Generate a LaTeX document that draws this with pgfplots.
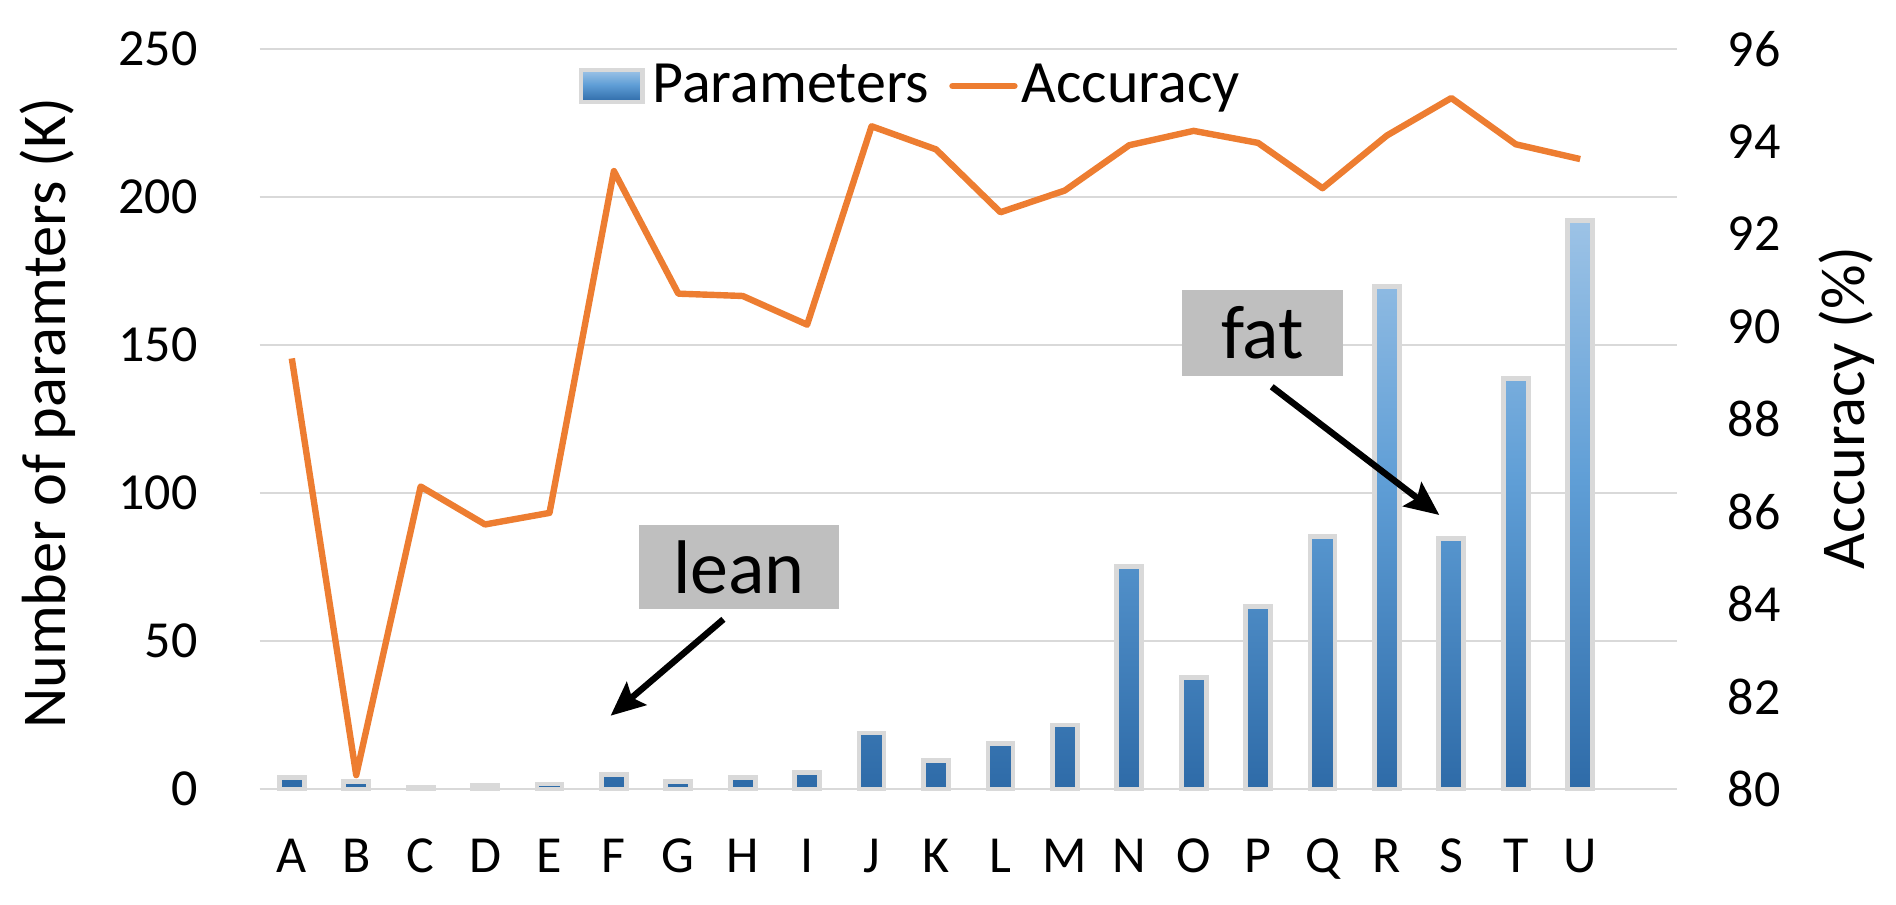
\documentclass[border=0pt]{standalone}
\usepackage{fontspec}
\setmainfont{Carlito}
\usepackage{pgfplots}
\usepackage{pgfplotstable}
\pgfplotsset{compat=1.18}
\usetikzlibrary{arrows.meta}
\definecolor{gridgray}{HTML}{D9D9D9}
\definecolor{bargray}{HTML}{D9D9D9}
\definecolor{accorange}{HTML}{ED7D31}
\definecolor{boxgray}{HTML}{BFBFBF}
\definecolor{barlight}{HTML}{9DC3E6}
\definecolor{barmid}{HTML}{5F9ED6}
\definecolor{bardark}{HTML}{2E6BA8}
\pgfdeclareverticalshading{barshade}{100bp}{color(0bp)=(bardark); color(25bp)=(bardark); color(52bp)=(barmid); color(75bp)=(barlight); color(100bp)=(barlight)}

\pgfplotstableread{
x params acc
0  4.0   89.31
1  2.6   80.30
2  0.5   86.54
3  1.2   85.72
4  1.7   85.97
5  4.8   93.36
6  2.5   90.71
7  4.0   90.66
8  5.6   90.04
9  18.9  94.33
10 9.5   93.83
11 15.5  92.47
12 21.6  92.94
13 75.3  93.92
14 37.7  94.23
15 61.7  93.97
16 85.4  92.99
17 169.8 94.13
18 84.6  94.94
19 138.6 93.94
20 192.2 93.62
}\datatable

\begin{document}
\begin{tikzpicture}
\begin{axis}[
  at={(64.9pt,28.75pt)}, anchor=south west,
  scale only axis, width=354.3pt, height=185pt,
  xmin=-0.5, xmax=21.5, ymin=0, ymax=250,
  xtick={0,...,20},
  xticklabels={A,B,C,D,E,F,G,H,I,J,K,L,M,N,O,P,Q,R,S,T,U},
  ytick={0,50,...,250},
  ymajorgrids, grid style={draw=gridgray, line width=0.55pt},
  axis line style={draw=none},
  major tick length=0pt, tick style={draw=none},
  tick label style={font=\fontsize{13}{15}\selectfont, inner sep=0pt},
  /pgf/number format/assume math mode=true,
  yticklabel style={anchor=east, xshift=-15.3pt},
  xticklabel style={anchor=north, yshift=-12.25pt},
  ylabel={Number of paramters (K)},
  every axis y label/.style={at={(axis description cs:-0.1373,0.508)}, rotate=90, anchor=base, font=\fontsize{15.6}{18}\selectfont},
  clip=false,
]
\addplot[ybar, bar width=6.25pt, draw=bargray, line width=1.2pt, shade, shading=barshade] table[x=x, y=params] {\datatable};
\node[fill=boxgray, minimum width=50pt, minimum height=21.1pt, inner sep=0pt, font=\fontsize{19}{22}\selectfont] at (axis cs:6.94,74.95) {lean};
\draw[line width=1.6pt, -{Stealth[length=8.5pt, width=7.5pt, inset=1.5pt]}] (axis cs:6.700,57.33) -- (axis cs:4.949,24.76);
\node[fill=boxgray, minimum width=40.1pt, minimum height=21.4pt, inner sep=0pt, font=\fontsize{19}{22}\selectfont] at (axis cs:15.07,154.1) {fat};
\draw[line width=1.6pt, -{Stealth[length=8.5pt, width=7.5pt, inset=1.5pt]}] (axis cs:15.212,135.9) -- (axis cs:17.814,92.57);
\end{axis}
\begin{axis}[
  at={(64.9pt,28.75pt)}, anchor=south west,
  scale only axis, width=354.3pt, height=185pt,
  xmin=-0.5, xmax=21.5, ymin=80, ymax=96,
  ytick={80,82,...,96},
  axis y line*=right, axis x line=none,
  axis line style={draw=none},
  major tick length=0pt, tick style={draw=none},
  tick label style={font=\fontsize{13}{15}\selectfont, inner sep=0pt},
  /pgf/number format/assume math mode=true,
  yticklabel style={anchor=west, xshift=12.55pt},
  ylabel={Accuracy (\%)},
  every axis y label/.style={at={(axis description cs:1.1321,0.515)}, rotate=90, anchor=base, font=\fontsize{15.6}{18}\selectfont},
  legend columns=2,
  legend style={at={(axis description cs:0.2247,0.950)}, anchor=west, draw=none, fill=none, inner sep=0pt,
    font=\fontsize{15}{17}\selectfont,
    /tikz/every odd column/.append style={column sep=1pt},
    /tikz/every even column/.append style={column sep=5pt},
    nodes={inner sep=0pt}},
  clip=false,
]
\addlegendimage{legend image code/.code={\draw[draw=bargray, line width=1.1pt, shade, shading=barshade] (0pt,-3.95pt) rectangle (15.4pt,3.95pt); \path (16.6pt,0pt);}}
\addlegendentry{Parameters}
\addplot[accorange, line width=1.6pt, line join=round,
  legend image code/.code={\draw[accorange, line width=1.6pt, line cap=round] (0.8pt,0pt) -- (16.3pt,0pt);}]
  table[x=x, y=acc] {\datatable};
\addlegendentry{Accuracy}
\end{axis}
\pgfresetboundingbox
\useasboundingbox (0,0) rectangle (474pt,226pt);
\end{tikzpicture}
\end{document}
